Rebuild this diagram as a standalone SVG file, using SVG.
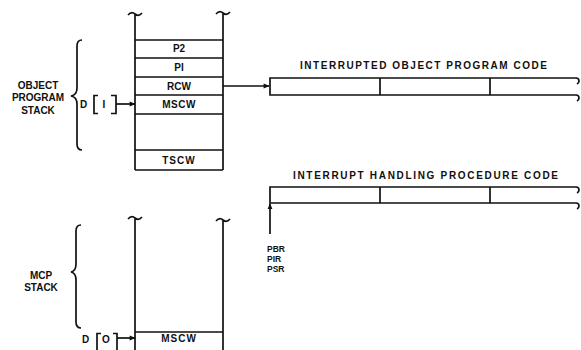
<svg xmlns="http://www.w3.org/2000/svg" width="581" height="350" viewBox="0 0 581 350">
<style>
.ln{stroke:#111;stroke-width:1.7;fill:none}
.t{font-family:"Liberation Sans",Arial,sans-serif;font-weight:bold;fill:#111;font-size:10px}
.m{text-anchor:middle}
.s{font-size:8.5px}
</style>
<defs>
<marker id="ah" viewBox="0 0 10 10" refX="9" refY="5" markerWidth="7" markerHeight="6" markerUnits="userSpaceOnUse" orient="auto">
<path d="M0,1 L10,5 L0,9 Z" fill="#111"/>
</marker>
</defs>
<rect width="581" height="350" fill="#fff"/>

<g id="object-program-stack">
<path class="ln" d="M135,14 V170 M223,13 V170 M128,15 q3.5,-4 7,-1 q3.5,3 7,-1 M216,14 q3.5,-4 7,-1 q3.5,3 7,-1"/>
<path class="ln" d="M135,40 H223 M135,58 H223 M135,77 H223 M135,95 H223 M135,114 H223 M135,150 H223 M135,170 H223"/>
<text class="t m" x="179" y="52">P2</text>
<text class="t m" x="179" y="71">PI</text>
<text class="t m" x="179" y="89.5">RCW</text>
<text class="t m" x="179" y="107.5" letter-spacing="0.5">MSCW</text>
<text class="t m" x="179" y="163.5" letter-spacing="1">TSCW</text>
</g>

<g id="object-program-label">
<path class="ln" d="M82,40 q-5,0 -5,6 V88 q0,7 -6,8 q6,1 6,8 V144 q0,6 5,6"/>
<text class="t m" x="38" y="89">OBJECT</text>
<text class="t m" x="38" y="101">PROGRAM</text>
<text class="t m" x="38" y="114">STACK</text>
</g>

<g id="d1">
<text class="t" x="80" y="107.5">D</text>
<path class="ln" d="M98,95.5 H94 V113.5 H98 M111,95.5 H116 V113.5 H111"/>
<text class="t m" x="104" y="107.5">I</text>
</g>

<g id="mcp-stack">
<path class="ln" d="M135,218 V350 M223,220 V350 M128,219 q3.5,-4 7,-1 q3.5,3 7,-1 M216,221 q3.5,-4 7,-1 q3.5,3 7,-1 M135,332 H223"/>
<text class="t m" x="179" y="342" letter-spacing="1">MSCW</text>
</g>

<g id="mcp-label">
<path class="ln" d="M81,225 q-5,0 -5,6 V264 q0,7 -5,8 q5,1 5,8 V322 q0,6 5,6"/>
<text class="t m" x="41" y="279">MCP</text>
<text class="t m" x="41" y="291">STACK</text>
</g>

<g id="d0">
<text class="t" x="82" y="343">D</text>
<path class="ln" d="M101,333.5 H97 V350 M113,333.5 H117 V350"/>
<text class="t m" x="106" y="343">O</text>
</g>

<g id="interrupted-code">
<text class="t" x="300" y="68.5" textLength="247" lengthAdjust="spacing">INTERRUPTED OBJECT PROGRAM CODE</text>
<path class="ln" d="M577,78 H270 V95 H577 M380,78 V95 M490,78 V95 M576,78 q3,0 3,3 q0,2 -2,3 M576,95 q3,0 3,3 q0,2 -2,3"/>
</g>

<g id="interrupt-handling-code">
<text class="t" x="293" y="179" textLength="265" lengthAdjust="spacing">INTERRUPT HANDLING PROCEDURE CODE</text>
<path class="ln" d="M577,187 H270 V203 H577 M380,187 V203 M490,187 V203 M576,187 q3,0 3,3 q0,2 -2,3 M576,203 q3,0 3,3 q0,2 -2,3"/>
</g>

<g id="registers">
<text class="t s" x="267" y="252">PBR</text>
<text class="t s" x="267" y="262">PIR</text>
<text class="t s" x="267" y="271.5">PSR</text>
</g>

<g id="connectors">
<line class="ln" x1="223" y1="86" x2="269" y2="86" marker-end="url(#ah)"/>
<line class="ln" x1="116" y1="104" x2="135" y2="104" marker-end="url(#ah)"/>
<line class="ln" x1="117" y1="338" x2="135" y2="338" marker-end="url(#ah)"/>
<line class="ln" x1="270" y1="234" x2="270" y2="203.5" marker-end="url(#ah)"/>
</g>
</svg>
